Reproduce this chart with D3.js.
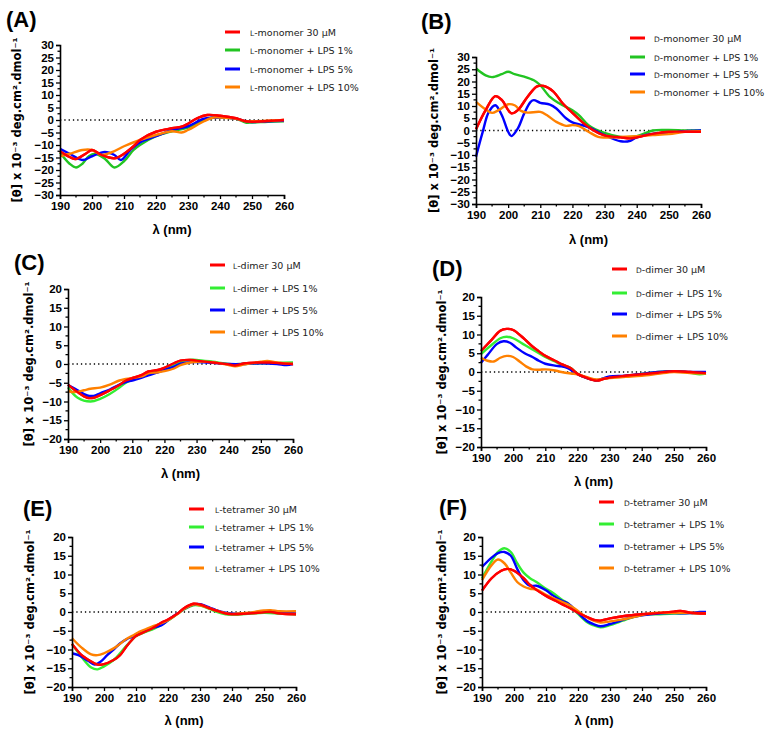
<!DOCTYPE html>
<html>
<head>
<meta charset="utf-8">
<script src="https://cdn.jsdelivr.net/npm/d3@7"></script>
<style>
  body { margin: 0; background: #fff; }
  svg { font-family: Arial, "Liberation Sans", sans-serif; }
</style>
</head>
<body>
<div id="chart-area"></div>
<script>
// series data: [wavelength nm, [θ] x 10^-3]
const lMonomer30 = [[190,-12.5],[193,-14.8],[195,-15.6],[198,-13.5],[200,-12],[203,-14],[207,-15.3],[210,-13.5],[213,-10.5],[215,-8],[220,-4.7],[225,-3.3],[228,-2.7],[230,-1.5],[233,0.8],[236,2],[240,1.7],[245,0.7],[248,-0.5],[250,-0.7],[255,-0.4],[260,0]]
const lMonomer1 = [[190,-13],[193,-17.5],[195,-19],[197,-17.5],[199,-14.5],[201,-13.5],[204,-15.5],[207,-19],[210,-16.5],[213,-12],[215,-10],[220,-6.5],[225,-4.5],[230,-3],[235,0],[238,1],[240,1],[245,0.5],[248,-1],[250,-1],[255,-0.7],[260,-0.5]]
const lMonomer5 = [[190,-11.5],[193,-13.5],[197,-16],[200,-14.5],[204,-12.8],[207,-14],[209,-16],[212,-12],[215,-9],[220,-6.5],[225,-4],[230,-2.5],[235,0.5],[240,1],[245,0.5],[248,-0.5],[250,-0.8],[255,-0.5],[260,-0.3]]
const lMonomer10 = [[190,-14.5],[193,-13.5],[197,-12],[200,-12],[203,-14],[206,-13],[210,-10.5],[215,-8],[220,-6],[225,-4.5],[228,-5],[230,-4],[235,-0.5],[238,1],[240,1],[245,0.5],[248,-0.5],[250,-0.5],[255,-0.3],[260,0]]

const dMonomer30 = [[190,0.5],[193,8.3],[196,14],[198,12.5],[201,7],[203,8.3],[206,13.7],[209,18],[211,18.2],[214,16],[217,11],[220,7.2],[223,3.5],[226,0.5],[230,-2],[235,-2.8],[238,-3.2],[240,-2.8],[245,-1.4],[250,-0.5],[255,-0.5],[260,-0.5]]
const dMonomer1 = [[190,25.3],[193,22.5],[195,21.8],[198,23],[200,24],[202,23],[205,22],[208,20.5],[210,18.5],[213,13.7],[216,11],[220,8.3],[222,6.3],[225,2.2],[230,-1],[235,-2.6],[240,-2.3],[245,0],[250,0.2],[255,0],[260,0]]
const dMonomer5 = [[190,-10.7],[192,-1],[194,7.6],[196,10.3],[198,6.3],[200,-0.5],[201,-2.3],[203,0.8],[205,7],[207,11.7],[208,12.4],[210,11.3],[213,10.6],[215,9],[218,5],[220,3.3],[224,1.8],[226,0.8],[230,-1.9],[235,-4.4],[238,-4.2],[240,-2.8],[245,-1.4],[250,-1],[255,-0.3],[260,0]]
const dMonomer10 = [[190,11.7],[193,8.6],[195,7.2],[197,8.3],[200,10.7],[202,10.3],[204,8],[206,7.3],[210,7.6],[212,6.3],[215,3.5],[218,1.9],[220,2.2],[222,1.8],[225,-0.5],[228,-2.6],[230,-2.9],[235,-2.6],[240,-2.3],[245,-1.9],[250,-1.5],[255,-0.5],[260,-0.3]]

const lDimer30 = [[190,-5.5],[193,-7.5],[196,-9],[198,-9],[200,-8.3],[203,-7],[206,-5.6],[208,-4.4],[210,-3.8],[213,-2.9],[215,-2],[218,-1.6],[220,-1],[223,0.2],[225,0.9],[228,1.1],[230,0.9],[235,0.4],[240,-0.1],[242,-0.4],[245,0.2],[250,0.4],[253,0.4],[256,0.2],[260,0]]
const lDimer1 = [[190,-6.2],[193,-9],[197,-10],[200,-9.3],[203,-8],[206,-6.3],[208,-5],[210,-4.2],[213,-3.3],[215,-2.7],[218,-2],[220,-1.3],[223,-0.2],[225,0.6],[228,1.1],[230,1.1],[235,0.6],[240,0],[245,0],[250,0.2],[255,0.3],[260,0.4]]
const lDimer5 = [[190,-5.6],[193,-7],[196,-8.4],[198,-8.5],[200,-7.8],[203,-6.8],[206,-5.5],[208,-4.8],[210,-4.4],[213,-3.6],[215,-3],[218,-2.2],[220,-1.6],[223,-0.7],[225,0.1],[228,0.5],[230,0.5],[235,0.3],[240,0],[245,0],[250,0.2],[255,0],[258,-0.3],[260,0]]
const lDimer10 = [[190,-7.2],[192,-7.5],[195,-7],[197,-6.6],[200,-6.3],[203,-5.5],[206,-4.4],[208,-4],[210,-3.7],[213,-3.3],[215,-2.5],[218,-2.2],[220,-1.9],[223,-1.2],[225,-0.3],[228,0.4],[230,0.6],[235,0.5],[240,-0.3],[242,-0.6],[245,-0.1],[250,0.6],[252,0.8],[255,0.4],[260,0]]

const dDimer30 = [[190,5.6],[193,8.3],[196,11],[198,11.5],[200,11.2],[203,9.2],[206,6.8],[208,5.5],[210,4.3],[213,3],[215,2.1],[218,1],[220,-0.5],[223,-1.6],[226,-2.3],[228,-1.9],[230,-1.5],[235,-1],[240,-0.6],[245,-0.2],[250,0.2],[255,0],[260,-0.3]]
const dDimer1 = [[190,4.8],[193,7],[196,9],[198,9.4],[200,9],[203,7.5],[206,6],[208,5],[210,4],[213,2.8],[215,2],[218,1],[220,-0.5],[223,-1.6],[226,-2.2],[228,-1.8],[230,-1.5],[235,-1.2],[240,-0.5],[245,0],[250,0.2],[255,-0.2],[258,-0.6],[260,-0.4]]
const dDimer5 = [[190,2.5],[192,4.5],[195,7.5],[197,8.2],[199,7.8],[201,6.5],[204,4.8],[206,4],[208,3],[210,2.2],[213,1.7],[215,1.5],[217,1],[220,-0.6],[223,-1.6],[226,-2.2],[228,-1.7],[230,-1.2],[235,-1],[240,-0.5],[245,0],[250,0.2],[255,0],[260,0]]
const dDimer10 = [[190,3.8],[192,3],[194,2.8],[196,3.8],[198,4.3],[200,4],[202,2.8],[204,1.5],[206,0.7],[208,0.6],[210,0.7],[213,0.4],[215,0],[218,-0.4],[220,-0.6],[223,-1.4],[226,-2],[228,-1.8],[230,-1.6],[235,-1.3],[240,-1],[245,-0.5],[250,0],[255,-0.3],[260,-0.4]]

const lTetramer30 = [[190,-8.5],[193,-11.5],[196,-13.2],[198,-14],[200,-13.9],[203,-12.8],[205,-11.5],[207,-9.2],[209,-7.2],[210,-6.4],[213,-5.2],[215,-4.4],[218,-2.8],[220,-2],[223,-0.4],[225,1],[228,2.2],[230,2],[233,1],[235,0.4],[238,-0.4],[240,-0.6],[245,-0.4],[250,-0.1],[252,0],[255,-0.4],[260,-0.6]]
const lTetramer1 = [[190,-8.5],[193,-12],[196,-14.8],[198,-15.3],[200,-14.5],[203,-12.8],[205,-11],[207,-9],[209,-7.2],[210,-6.4],[213,-5.3],[215,-4.7],[218,-3.4],[220,-2.3],[223,-0.5],[225,0.7],[228,1.8],[230,1.7],[233,0.8],[235,0.1],[238,-0.6],[240,-0.7],[245,-0.5],[250,-0.2],[255,-0.4],[260,-0.6]]
const lTetramer5 = [[190,-11],[192,-11.5],[195,-13],[197,-14],[199,-13.2],[201,-11.5],[203,-10],[205,-8.4],[207,-7.3],[209,-6.5],[211,-5.5],[213,-5],[215,-4.3],[218,-3.5],[220,-2.2],[223,-0.4],[225,0.8],[228,2],[230,2.1],[233,1.2],[235,0.5],[238,-0.2],[240,-0.4],[245,-0.3],[250,0.2],[252,0.3],[255,0],[260,-0.4]]
const lTetramer10 = [[190,-7],[193,-9.5],[196,-11.3],[198,-11.5],[200,-11],[203,-9.7],[205,-8.5],[207,-7.2],[209,-6.3],[211,-5.3],[213,-4.6],[215,-3.9],[218,-3],[220,-2.2],[223,-0.5],[225,0.8],[228,2],[230,1.8],[233,1],[235,0.4],[238,-0.3],[240,-0.5],[245,-0.2],[250,0.4],[252,0.5],[255,0.2],[260,0.2]]

const dTetramer30 = [[190,5.7],[193,9],[196,11],[198,11.5],[200,11],[203,9],[205,7.2],[207,5.9],[210,4.3],[213,3],[215,2.1],[218,0.8],[220,-0.2],[223,-1.4],[225,-2.1],[227,-2.3],[230,-1.7],[235,-1],[240,-0.6],[245,-0.3],[250,0.1],[252,0.3],[255,-0.2],[260,-0.4]]
const dTetramer1 = [[190,9],[193,13.5],[195,16],[197,17],[199,16],[201,13],[203,10.5],[205,9],[207,8],[210,6.2],[212,5.2],[215,3.3],[217,2.2],[220,-0.5],[223,-2.8],[225,-3.6],[227,-4.1],[230,-3.5],[233,-2.6],[235,-2],[240,-0.8],[245,-0.6],[250,-0.4],[255,-0.3],[260,-0.2]]
const dTetramer5 = [[190,12],[193,14.5],[195,15.7],[197,16],[199,15],[201,11.5],[203,8.5],[205,7],[207,7],[210,5.8],[212,4.5],[215,3],[217,2.2],[220,-0.2],[223,-2.5],[225,-3.3],[227,-3.8],[230,-3.2],[233,-2.4],[235,-1.8],[240,-0.9],[245,-0.4],[250,-0.3],[255,-0.3],[258,0],[260,0]]
const dTetramer10 = [[190,8.5],[193,12.5],[195,14],[197,13],[199,10.5],[201,8],[203,6.8],[205,6.2],[207,6],[210,4.6],[212,3.8],[215,2.7],[217,2],[220,0.3],[222,-1],[225,-2.4],[227,-2.8],[230,-2.5],[233,-2.1],[235,-1.8],[240,-0.8],[243,-0.3],[245,-0.2],[250,-0.2],[255,-0.2],[260,-0.3]]

// legend labels (prefix is drawn in small caps)
const seriesSuffix = [" 30 \u03BCM", " + LPS 1%", " + LPS 5%", " + LPS 10%"]
const xTicks = [190, 200, 210, 220, 230, 240, 250, 260]

const panels = [
  { tag: "(A)", pre: "L", name: "-monomer", series: [lMonomer30, lMonomer1, lMonomer5, lMonomer10], dom: [-30, 30],
    x0: 60, x1: 284, yT: 45, yB: 195, tx: 6, ty: 27, lx: 225, tX: 250, rows: [32, 50, 69, 87], xl: 234, yl: 21, green: "#22c422" },
  { tag: "(B)", pre: "D", name: "-monomer", series: [dMonomer30, dMonomer1, dMonomer5, dMonomer10], dom: [-30, 30],
    x0: 476, x1: 701, yT: 57, yB: 204, tx: 421, ty: 29, lx: 630, tX: 654, rows: [38, 57, 74, 92], xl: 244, yl: 438, green: "#22c422" },
  { tag: "(C)", pre: "L", name: "-dimer", series: [lDimer30, lDimer1, lDimer5, lDimer10], dom: [-20, 20],
    x0: 68, x1: 293, yT: 289, yB: 439, tx: 14, ty: 270, lx: 210, tX: 233, rows: [265, 288, 310, 332], xl: 478, yl: 33, green: "#33ee33" },
  { tag: "(D)", pre: "D", name: "-dimer", series: [dDimer30, dDimer1, dDimer5, dDimer10], dom: [-20, 20],
    x0: 481, x1: 706, yT: 297, yB: 447, tx: 432, ty: 276, lx: 612, tX: 636, rows: [269, 293, 314, 336], xl: 486, yl: 446, green: "#33ee33" },
  { tag: "(E)", pre: "L", name: "-tetramer", series: [lTetramer30, lTetramer1, lTetramer5, lTetramer10], dom: [-20, 20],
    x0: 72, x1: 296, yT: 537, yB: 687, tx: 23, ty: 516, lx: 189, tX: 215, rows: [509, 527, 547, 568], xl: 725, yl: 34, green: "#33ee33" },
  { tag: "(F)", pre: "D", name: "-tetramer", series: [dTetramer30, dTetramer1, dTetramer5, dTetramer10], dom: [-20, 20],
    x0: 482, x1: 706, yT: 537, yB: 687, tx: 439, ty: 515, lx: 599, tX: 624, rows: [502, 524, 546, 568], xl: 725, yl: 446, green: "#33ee33" }
]

const svg = d3.select("#chart-area").append("svg")
  .attr("width", 768)
  .attr("height", 732)

panels.forEach(p => {
  const colors = ["#ff0000", p.green, "#0000ff", "#ff8000"]
  const x = d3.scaleLinear().domain([190, 260]).range([p.x0, p.x1])
  const y = d3.scaleLinear().domain(p.dom).range([p.yB, p.yT])
  const g = svg.append("g")

  // zero line dotted
  g.append("line")
    .attr("x1", x(190)).attr("x2", x(260))
    .attr("y1", y(0)).attr("y2", y(0))
    .attr("stroke", "#000").attr("stroke-width", 1.3)
    .attr("stroke-dasharray", "1.3,3")

  // curves
  const line = d3.line()
    .x(d => x(d[0]))
    .y(d => y(d[1]))
    .curve(d3.curveCatmullRom.alpha(0.5))
  p.series.forEach((s, i) => {
    g.append("path")
      .datum(s)
      .attr("fill", "none")
      .attr("stroke", colors[i])
      .attr("stroke-width", 2.4)
      .attr("d", line)
  })
  // red drawn on top like reference
  g.append("path")
    .datum(p.series[0])
    .attr("fill", "none")
    .attr("stroke", colors[0])
    .attr("stroke-width", 2.4)
    .attr("d", line)

  // x axis
  const xAx = g.append("g")
    .attr("transform", `translate(0, ${p.yB})`)
    .call(d3.axisBottom(x).tickValues(xTicks).tickSize(4).tickPadding(3))
  xAx.append("g")
    .selectAll("line")
    .data(d3.range(195, 260, 10))
    .join("line")
    .attr("x1", d => x(d)).attr("x2", d => x(d))
    .attr("y1", 0).attr("y2", 2.5)
    .attr("stroke", "#000").attr("stroke-width", 1.3)

  // y axis
  const yTicks = d3.range(p.dom[0], p.dom[1] + 1, 5)
  const yAx = g.append("g")
    .attr("transform", `translate(${p.x0}, 0)`)
    .call(d3.axisLeft(y).tickValues(yTicks).tickSize(4).tickPadding(2)
      .tickFormat(d => d < 0 ? "\u2212" + Math.abs(d) : d))
  yAx.append("g")
    .selectAll("line")
    .data(d3.range(p.dom[0] + 2.5, p.dom[1], 5))
    .join("line")
    .attr("x1", 0).attr("x2", -2.5)
    .attr("y1", d => y(d)).attr("y2", d => y(d))
    .attr("stroke", "#000").attr("stroke-width", 1.3)

  ;[xAx, yAx].forEach(a => {
    a.select(".domain").attr("stroke-width", 1.6)
    a.selectAll(".tick line").attr("stroke-width", 1.3)
    a.selectAll(".tick text")
      .attr("font-size", "11.5px")
      .attr("font-weight", "bold")
      .attr("fill", "#000")
      .attr("font-family", "Arial, 'Liberation Sans', sans-serif")
  })

  // x label
  g.append("text")
    .attr("x", (p.x0 + p.x1) / 2)
    .attr("y", p.xl)
    .attr("text-anchor", "middle")
    .attr("font-size", "13px")
    .attr("font-weight", "bold")
    .text("\u03BB (nm)")

  // y label
  g.append("text")
    .attr("transform", `translate(${p.yl}, ${(p.yT + p.yB) / 2}) rotate(-90)`)
    .attr("text-anchor", "middle")
    .attr("font-family", "'DejaVu Sans', sans-serif")
    .attr("font-size", "11.5px")
    .attr("font-weight", "bold")
    .text("[\u03B8] x 10\u207B\u00B3 deg.cm\u00B2.dmol\u207B\u00B9")

  // panel tag
  g.append("text")
    .attr("x", p.tx)
    .attr("y", p.ty)
    .attr("font-size", "22px")
    .attr("font-weight", "bold")
    .text(p.tag)

  // legend
  p.rows.forEach((ry, i) => {
    g.append("line")
      .attr("x1", p.lx).attr("x2", p.lx + 15)
      .attr("y1", ry).attr("y2", ry)
      .attr("stroke", colors[i]).attr("stroke-width", 3)
    const t = g.append("text")
      .attr("x", p.tX)
      .attr("y", ry + 3.5)
      .attr("font-family", "'DejaVu Sans', sans-serif")
      .attr("font-size", "9.5px")
      .attr("fill", "#222")
    t.append("tspan").attr("font-size", "7.5px").text(p.pre)
    t.append("tspan").text(p.name + seriesSuffix[i])
  })
})
</script>
</body>
</html>
